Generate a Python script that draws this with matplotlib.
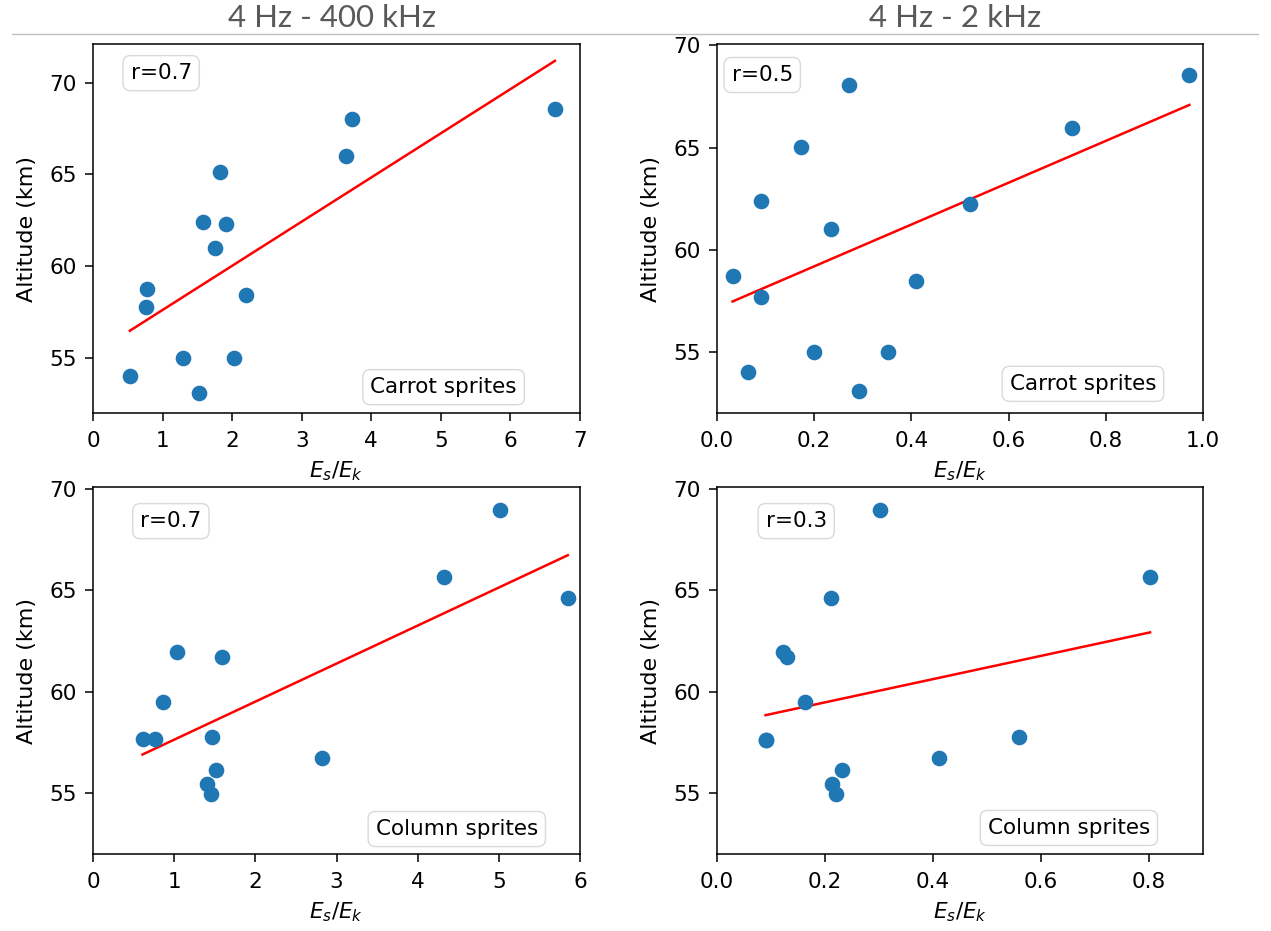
import numpy as np
import matplotlib
matplotlib.use("Agg")
import matplotlib.pyplot as plt

# --- Data ---
# Carrot sprites, 4 Hz - 400 kHz
carrot_wide_ratio = [0.53, 0.76, 0.78, 1.30, 1.52, 1.58, 1.75, 1.83, 1.91, 2.02, 2.20, 3.64, 3.72, 6.64]
carrot_wide_alt = [54.0, 57.8, 58.75, 55.0, 53.1, 62.4, 61.0, 65.15, 62.3, 55.0, 58.45, 66.0, 68.0, 68.55]

# Carrot sprites, 4 Hz - 2 kHz
carrot_low_ratio = [0.032, 0.063, 0.090, 0.090, 0.172, 0.200, 0.234, 0.272, 0.292, 0.352, 0.410, 0.520, 0.730, 0.972]
carrot_low_alt = [58.7, 54.0, 62.4, 57.7, 65.05, 55.0, 61.0, 68.05, 53.1, 55.0, 58.45, 62.25, 65.98, 68.55]

# Column sprites, 4 Hz - 400 kHz
column_wide_ratio = [0.61, 0.77, 0.86, 1.04, 1.40, 1.45, 1.46, 1.52, 1.59, 2.82, 4.32, 5.01, 5.85]
column_wide_alt = [57.65, 57.65, 59.5, 61.95, 55.45, 54.95, 57.75, 56.15, 61.7, 56.75, 65.65, 68.95, 64.65]

# Column sprites, 4 Hz - 2 kHz
column_low_ratio = [0.090, 0.091, 0.123, 0.130, 0.163, 0.212, 0.213, 0.220, 0.232, 0.301, 0.412, 0.559, 0.802]
column_low_alt = [57.6, 57.6, 61.95, 61.7, 59.5, 64.65, 55.45, 54.95, 56.15, 68.95, 56.75, 57.75, 65.65]

column_titles = ["4 Hz - 400 kHz", "4 Hz - 2 kHz"]
r_labels = ["r=0.7", "r=0.5", "r=0.7", "r=0.3"]
type_labels = ["Carrot sprites", "Carrot sprites", "Column sprites", "Column sprites"]

# --- Figure setup ---
W, H = 1271, 931
fig = plt.figure(figsize=(W / 100, H / 100), dpi=100)


def px_axes(left, top, right, bottom):
    # axes from pixel box
    return fig.add_axes([left / W, (H - bottom) / H, (right - left) / W, (bottom - top) / H])


panels = [
    # data, axes box, xlim, xticks, ylim, r-label pos, type-label pos
    (carrot_wide_ratio, carrot_wide_alt, (93, 44, 580, 413), (0, 7), np.arange(0, 8, 1),
     (52, 72.1), (0.14, 0.921), (0.72, 0.07)),
    (carrot_low_ratio, carrot_low_alt, (717, 44, 1203, 413), (0, 1.0), np.arange(0, 1.01, 0.2),
     (52, 70.07), (0.093, 0.916), (0.753, 0.079)),
    (column_wide_ratio, column_wide_alt, (93, 487, 580, 854), (0, 6), np.arange(0, 7, 1),
     (52, 70.1), (0.16, 0.907), (0.747, 0.068)),
    (column_low_ratio, column_low_alt, (717, 487, 1203, 854), (0, 0.9), np.arange(0, 0.81, 0.2),
     (52, 70.1), (0.163, 0.907), (0.724, 0.071)),
]

box_style = dict(boxstyle="round,pad=0.35", facecolor="white", edgecolor="#d9d9d9", linewidth=1.0)

for i, (xs, ys, box, xlim, xticks, ylim, rpos, tpos) in enumerate(panels):
    ax = px_axes(*box)
    xs = np.array(xs)
    ys = np.array(ys)

    ax.scatter(xs, ys, s=105, color="#1f77b4", zorder=3)

    # least squares line across the data range
    slope, intercept = np.polyfit(xs, ys, 1)
    xfit = np.array([xs.min(), xs.max()])
    ax.plot(xfit, slope * xfit + intercept, color="red", linewidth=1.8, zorder=2)

    ax.set_xlim(*xlim)
    ax.set_ylim(*ylim)
    ax.set_xticks(xticks)
    ax.set_yticks([55, 60, 65, 70])
    if xlim[1] < 2:
        ax.set_xticklabels([f"{v:.1f}" for v in xticks])

    ax.tick_params(labelsize=15.5, length=6, width=1.1)
    ax.tick_params(axis="x", pad=7)
    ax.tick_params(axis="y", pad=5.5)
    for spine in ax.spines.values():
        spine.set_linewidth(1.1)

    ax.set_xlabel("$E_s/E_k$", fontsize=15.5, labelpad=6)
    ax.set_ylabel("Altitude (km)", fontsize=16, labelpad=9)

    ax.text(rpos[0], rpos[1], r_labels[i], transform=ax.transAxes, fontsize=15.5,
            ha="center", va="center", bbox=box_style)
    ax.text(tpos[0], tpos[1], type_labels[i], transform=ax.transAxes, fontsize=15.5,
            ha="center", va="center", bbox=box_style)

# column headings and the rule under them
fig.text(332 / W, 1 - 18 / H, column_titles[0], fontsize=22.5, color="#595959",
         family="Lato", ha="center", va="center")
fig.text(955 / W, 1 - 18 / H, column_titles[1], fontsize=22.5, color="#595959",
         family="Lato", ha="center", va="center")
fig.add_artist(plt.Line2D([12 / W, 1258 / W], [1 - 34 / H, 1 - 34 / H],
                          transform=fig.transFigure, color="#bfbfbf", linewidth=1.0))

fig.savefig("out.png", dpi=100)
